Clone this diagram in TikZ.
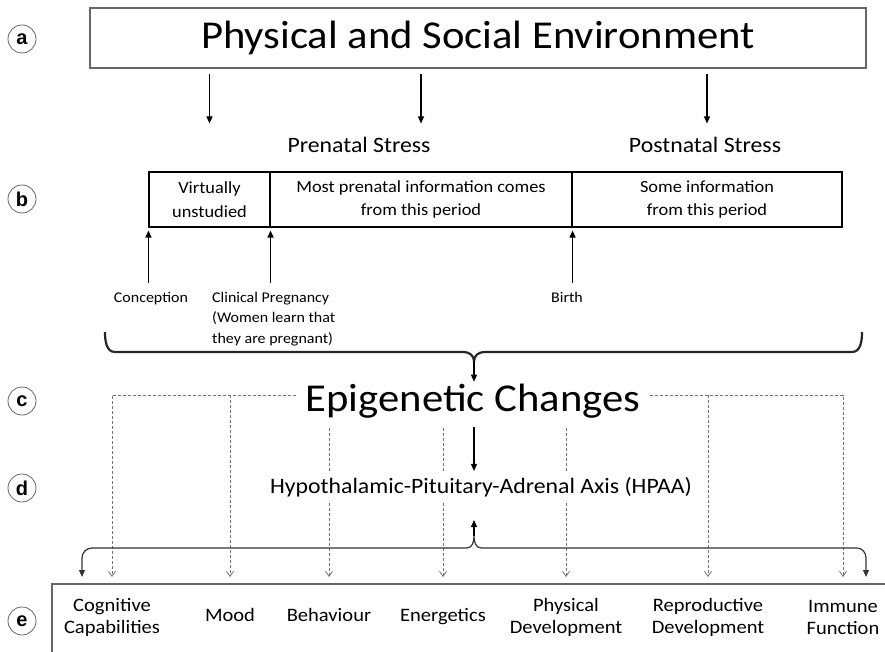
\documentclass[tikz,border=0pt]{standalone}
\usepackage{fontspec}
\setmainfont{Carlito}[FakeStretch=1.08]
\newfontfamily\tagfont{Liberation Sans}
\usetikzlibrary{positioning, arrows.meta, calc, backgrounds}

\begin{document}
\begin{tikzpicture}[
    x=1pt, y=-1pt,
    tag/.style={circle, draw=black!60, line width=0.8pt, inner sep=0pt, minimum size=28pt, font=\tagfont\bfseries\fontsize{20}{20}\selectfont},
    bigtext/.style={font=\fontsize{39.5}{44}\selectfont, inner ysep=2pt, inner xsep=10pt},
    midtext/.style={font=\fontsize{22}{26}\selectfont, inner sep=2pt},
    cell/.style={rectangle, draw, line width=1.1pt, minimum height=55pt, align=center, font=\fontsize{17}{23.5}\selectfont, inner sep=0pt},
    event/.style={font=\fontsize{14.8}{20.5}\selectfont, align=left, inner xsep=1pt, inner ysep=9pt},
    effect/.style={align=center, font=\fontsize{19}{22}\selectfont},
    effectone/.style={font=\fontsize{19}{22}\selectfont, text height=13pt, text depth=4pt},
    arrow/.style={-{Triangle[length=7pt,width=6pt]}, line width=1.2pt},
    dasharrow/.style={-{Straight Barb[length=5pt,width=7pt]}, black!55, line width=0.8pt, dash pattern=on 3pt off 2pt},
    bracket/.style={line width=2.2pt, black!85},
]
\useasboundingbox (0,0) rectangle (885,652);
\clip (0,0) rectangle (885,652);

% ============ labels ============
\node[tag] (la) at (22,39) {a};
\node[tag] (lb) at (22,199) {b};
\node[tag] (lc) at (22,401) {c};
\node[tag] (ld) at (22,488) {d};
\node[tag] (le) at (22,621) {e};

% ============ environment ============
\node[draw=black!60, line width=1.6pt, minimum width=776pt, minimum height=60pt, bigtext] (env) at (478,38)
      {Physical and Social Environment};

\node[midtext] (pre) at (359,145) {Prenatal Stress};
\node[midtext] (post) at (705,145) {Postnatal Stress};

% ============ timeline ============
\node[cell, minimum width=121pt] (virt) at (209.5,199.5) {Virtually\\unstudied};
\node[cell, minimum width=302pt] (most) at (421,199.5) {Most prenatal information comes\\from this period};
\node[cell, minimum width=270pt] (some) at (707,199.5) {Some information\\from this period};

\node[event, anchor=north] (conc) at (151,283) {Conception};
\node[event, anchor=north west] (clin) at (211,283) {Clinical Pregnancy\\(Women learn that\\they are pregnant)};
\node[event, anchor=north] (birth) at (567,283) {Birth};

% ============ epigenetics ============
\node[bigtext] (epi) at (473,401) {Epigenetic Changes};
\node[midtext, fill=white, inner ysep=6pt] (hpa) at (481,487) {Hypothalamic-Pituitary-Adrenal Axis (HPAA)};

\coordinate (btop) at (474,361);
\coordinate (bup) at (474,536);
\coordinate (etop) at (0,584);
\coordinate (epil) at ([yshift=6pt]epi.west);
\coordinate (epir) at ([yshift=6pt]epi.east);

% ============ effects ============
\draw[black!60, line width=1.6pt] (900,584) -- (52,584) -- (52,670);
\node[effect] (cog) at (112,617) {Cognitive\\Capabilities};
\node[effectone] (mood) at (230,617) {Mood};
\node[effectone] (beh) at (329,617) {Behaviour};
\node[effectone] (ener) at (443,617) {Energetics};
\node[effect] (phys) at (566,617) {Physical\\Development};
\node[effect] (repro) at (708,617) {Reproductive\\Development};
\node[effect] (imm) at (843,617) {Immune\\Function};

% ============ arrows ============
\draw[arrow, shorten <=5pt] (env.south -| virt) -- ([yshift=48pt]virt.north);
\draw[arrow, shorten <=5pt] (env.south -| most) -- ([yshift=48pt]most.north);
\draw[arrow, shorten <=5pt] (env.south -| some) -- ([yshift=48pt]some.north);

\draw[arrow, shorten >=3pt] (virt.south west |- conc.north) -- (virt.south west);
\draw[arrow, shorten >=3pt] (virt.south east |- conc.north) -- (virt.south east);
\draw[arrow, shorten >=3pt] (most.south east |- birth.north) -- (most.south east);

% brackets
\draw[bracket] (105,332) to[out=-90,in=180] (115,352) -- (464,352)
      to[out=0,in=90] (btop) to[out=90,in=180] (484,352) -- (852,352)
      to[out=0,in=-90] (862,332);
\draw[arrow] (btop) -- (btop |- epi.north);
\draw[arrow, shorten <=7pt] (epi.south -| btop) -- (hpa.north -| btop);

\draw[line width=1.2pt, black!80, {Triangle[length=7pt,width=6pt]}-{Triangle[length=7pt,width=6pt]}]
      (82,577) -- (82,558) to[out=90,in=180] (92,548) -- (467,548)
      to[out=0,in=-90] (bup) to[out=-90,in=180] (481,548) -- (857,548)
      to[out=0,in=90] (866,558) -- (866,577);
\draw[arrow, shorten >=17pt] (bup) -- (hpa.south -| bup);

% dashed links
\begin{pgfonlayer}{background}
    \draw[dasharrow, shorten >=7pt] (epil) -| (cog |- etop);
    \draw[dasharrow, shorten >=7pt] (mood |- epil) -- (mood |- etop);
    \draw[dasharrow, shorten >=7pt] (epir) -| (imm |- etop);
    \draw[dasharrow, shorten >=7pt] (repro |- epir) -- (repro |- etop);
    \draw[dasharrow, shorten <=8pt, shorten >=7pt] (beh |- epi.south) -- (beh |- etop);
    \draw[dasharrow, shorten <=8pt, shorten >=7pt] (ener |- epi.south) -- (ener |- etop);
    \draw[dasharrow, shorten <=8pt, shorten >=7pt] (phys |- epi.south) -- (phys |- etop);
\end{pgfonlayer}

\end{tikzpicture}
\end{document}
